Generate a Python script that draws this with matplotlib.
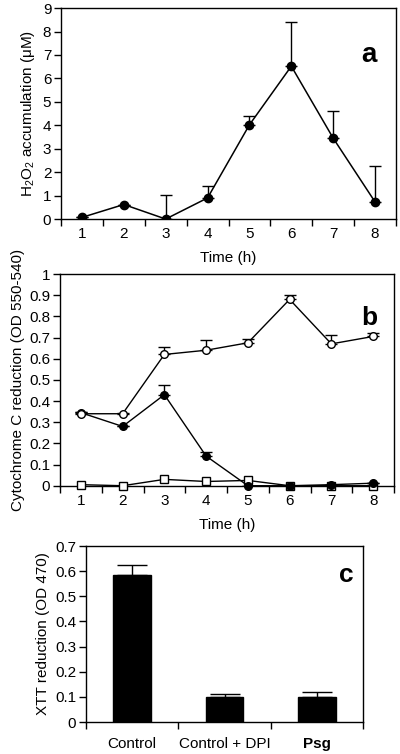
import numpy as np
import matplotlib
matplotlib.use("Agg")
import matplotlib.pyplot as plt
from matplotlib.ticker import FixedLocator

plt.rcParams["font.family"] = ["Liberation Sans", "DejaVu Sans"]
plt.rcParams["mathtext.fontset"] = "custom"
plt.rcParams["mathtext.rm"] = "Liberation Sans"

# ── Data ──────────────────────────────────────────────────────────────────────

hours = [1, 2, 3, 4, 5, 6, 7, 8]

# panel a: H2O2 accumulation
h2o2     = [0.07, 0.62, 0.0, 0.9, 4.02, 6.52, 3.45, 0.73]
h2o2_err = [0.0, 0.0, 1.02, 0.52, 0.36, 1.88, 1.15, 1.55]

# panel b: cytochrome C reduction
cyt_open       = [0.34, 0.34, 0.62, 0.64, 0.675, 0.88, 0.67, 0.705]
cyt_open_err   = [0.01, 0.005, 0.035, 0.05, 0.02, 0.02, 0.04, 0.015]
cyt_filled     = [0.345, 0.28, 0.43, 0.14, 0.0, 0.0, 0.005, 0.012]
cyt_filled_err = [0.005, 0.003, 0.045, 0.02, 0.0, 0.0, 0.0, 0.0]
cyt_square     = [0.005, 0.0, 0.03, 0.02, 0.025, 0.0, 0.0, 0.0]

# panel c: XTT reduction
groups  = ["Control", "Control + DPI", "Psg"]
xtt     = [0.585, 0.1, 0.1]
xtt_err = [0.04, 0.01, 0.02]

FS = 11

# ── Helpers ───────────────────────────────────────────────────────────────────

def style_axes(ax, xpad=6):
    for s in ax.spines.values():
        s.set_linewidth(1.0)
    ax.tick_params(axis="y", direction="out", length=5, width=1, labelsize=FS, pad=2)
    ax.tick_params(axis="x", which="major", length=0, labelsize=FS, pad=xpad)
    ax.tick_params(axis="x", which="minor", direction="out", length=5, width=1)


fig = plt.figure(figsize=(4.0, 7.54), dpi=100)

# ── Panel a ───────────────────────────────────────────────────────────────────

ax = fig.add_axes([0.1525, 0.7095, 0.8375, 0.2798])
ax.errorbar(hours, h2o2, yerr=[np.zeros(8), h2o2_err], fmt="none",
            ecolor="black", elinewidth=1, capsize=4, capthick=1)
ax.plot(hours, h2o2, "-o", color="black", lw=1.1, ms=6, mfc="black", mec="black")
style_axes(ax)
ax.set_xlim(0.5, 8.5)
ax.set_xticks(hours)
ax.xaxis.set_minor_locator(FixedLocator(np.arange(0.5, 9, 1)))
ax.set_ylim(0, 9)
ax.set_yticks(range(0, 10))
ax.set_xlabel("Time (h)", fontsize=FS, labelpad=7)
ax.set_ylabel("H$_2$O$_2$ accumulation (μM)", fontsize=FS, labelpad=4)
ax.text(7.85, 7.0, "a", fontsize=20, fontweight="bold", ha="center", va="center")

# ── Panel b ───────────────────────────────────────────────────────────────────

ax = fig.add_axes([0.15, 0.3558, 0.835, 0.2808])
ax.errorbar(hours, cyt_open, yerr=[np.zeros(8), cyt_open_err], fmt="none",
            ecolor="black", elinewidth=1, capsize=4, capthick=1)
ax.errorbar(hours, cyt_filled, yerr=[np.zeros(8), cyt_filled_err], fmt="none",
            ecolor="black", elinewidth=1, capsize=4, capthick=1)
ax.plot(hours, cyt_square, "-s", color="black", lw=1.0, ms=5.5, mfc="white",
        mec="black", mew=1, clip_on=False, zorder=3)
ax.plot(hours, cyt_filled, "-o", color="black", lw=1.0, ms=5.5, mfc="black",
        mec="black", clip_on=False, zorder=4)
ax.plot(hours, cyt_open, "-o", color="black", lw=1.0, ms=5.5, mfc="white",
        mec="black", mew=1, zorder=5)
style_axes(ax)
ax.set_xlim(0.5, 8.5)
ax.set_xticks(hours)
ax.xaxis.set_minor_locator(FixedLocator(np.arange(0.5, 9, 1)))
ax.set_ylim(0, 1)
ax.set_yticks(np.arange(0, 1.01, 0.1))
ax.set_yticklabels(["0"] + [f"{v:.1f}" for v in np.arange(0.1, 0.95, 0.1)] + ["1"])
ax.set_xlabel("Time (h)", fontsize=FS, labelpad=7)
ax.set_ylabel("Cytochrome C reduction (OD 550-540)", fontsize=FS, labelpad=3)
ax.text(7.9, 0.79, "b", fontsize=19, fontweight="bold", ha="center", va="center")

# ── Panel c ───────────────────────────────────────────────────────────────────

ax = fig.add_axes([0.215, 0.0424, 0.6925, 0.2334])
xpos = np.arange(len(groups))
ax.bar(xpos, xtt, width=0.41, color="black", edgecolor="black")
ax.errorbar(xpos, xtt, yerr=[np.zeros(3), xtt_err], fmt="none",
            ecolor="black", elinewidth=1, capsize=11, capthick=1)
style_axes(ax, xpad=11)
ax.set_xlim(-0.5, 2.5)
ax.set_xticks(xpos)
ax.set_xticklabels(groups)
ax.get_xticklabels()[2].set_fontweight("bold")
ax.xaxis.set_minor_locator(FixedLocator(np.arange(-0.5, 3, 1)))
ax.set_ylim(0, 0.7)
ax.set_yticks(np.arange(0, 0.71, 0.1))
ax.set_yticklabels(["0"] + [f"{v:.1f}" for v in np.arange(0.1, 0.75, 0.1)])
ax.set_ylabel("XTT reduction (OD 470)", fontsize=FS, labelpad=4)
ax.text(2.32, 0.585, "c", fontsize=19, fontweight="bold", ha="center", va="center")

fig.savefig("out.png", dpi=100)
